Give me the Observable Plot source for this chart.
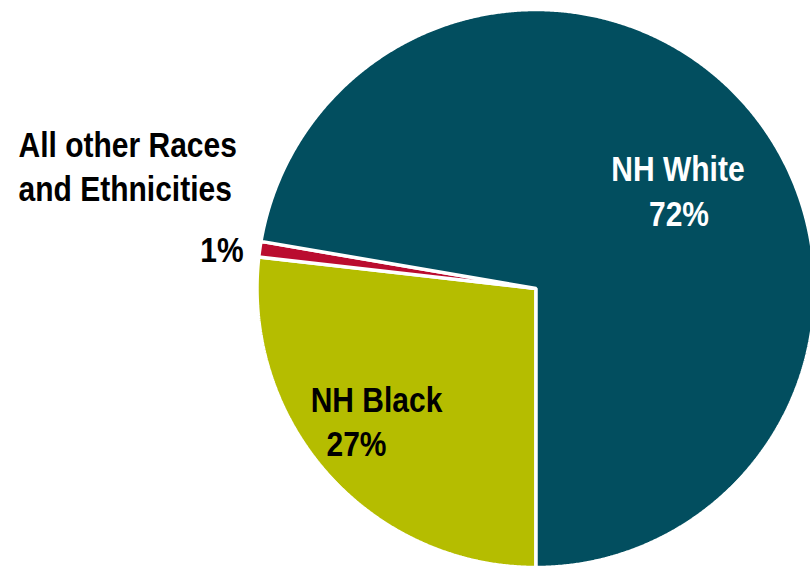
<!DOCTYPE html>
<html><head><meta charset="utf-8">
<script src="https://cdn.jsdelivr.net/npm/d3@7"></script>
<script src="https://cdn.jsdelivr.net/npm/@observablehq/plot@0.6"></script>
<style>body{margin:0;background:#fff;} svg{display:block;}</style>
</head><body><div id="chart"></div>
<script>
// Data
const categories = ["NH Black", "All other Races and Ethnicities", "NH White"];
const values = [26.8, 0.9, 72.3];
const percentLabels = ["27%", "1%", "72%"];
const colors = ["#B5BD00", "#BA0C2F", "#024E5F"];

// Layout
const W = 810, H = 568, CX = 535.5, CY = 288, R = 279;
const FONT = "'Liberation Sans', Arial, sans-serif";
const FS = 30;
const STRETCH_Y = 1.14;

const arcs = d3.pie().sort(null).startAngle(Math.PI).endAngle(3 * Math.PI)(values);
const polar = (a, r) => ({x: r * Math.sin(a), y: r * Math.cos(a)});

const slices = arcs.map((a, i) => ({
  name: categories[i], pct: percentLabels[i], color: colors[i],
  a0: a.startAngle, a1: a.endAngle, mid: (a.startAngle + a.endAngle) / 2
}));

function wedge(s) {
  const pts = [{...polar(0, 0)}];
  const n = Math.max(4, Math.ceil((s.a1 - s.a0) / 0.005));
  for (let k = 0; k <= n; k++) pts.push(polar(s.a0 + (s.a1 - s.a0) * k / n, 1));
  return pts;
}

const byName = Object.fromEntries(slices.map(s => [s.name, s]));
const anchor = (name, r) => { const s = byName[name]; return [{...polar(s.mid, r), name: s.name, pct: s.pct}]; };

const textBase = {x: "x", y: "y", fontFamily: FONT, fontSize: FS, fontWeight: "bold", lineAnchor: "bottom"};

const white = anchor("NH White", 0.6);
const black = anchor("NH Black", 0.6);
const other = anchor("All other Races and Ethnicities", 1.0);

const chart = Plot.plot({
  width: W, height: H, margin: 0,
  x: {domain: [-1, 1], range: [CX - R, CX + R], axis: null},
  y: {domain: [-1, 1], range: [CY + R, CY - R], axis: null},
  marks: [
    ...slices.map(s => Plot.line(wedge(s), {x: "x", y: "y", curve: "linear-closed", fill: s.color, stroke: "white", strokeWidth: 3.5, strokeLinejoin: "miter"})),
    Plot.text(white, {...textBase, text: "name", fill: "white", textAnchor: "middle", dx: 14, dy: 0}),
    Plot.text(white, {...textBase, text: "pct", fill: "white", textAnchor: "middle", dx: 15, dy: 45}),
    Plot.text(black, {...textBase, text: "name", fill: "black", textAnchor: "middle", dx: -34.6, dy: 12.3}),
    Plot.text(black, {...textBase, text: "pct", fill: "black", textAnchor: "middle", dx: -54.6, dy: 55.6}),
    Plot.text(other, {...textBase, text: () => "All other Races", fill: "black", textAnchor: "start", dx: -241.2, dy: -92.5}),
    Plot.text(other, {...textBase, text: () => "and Ethnicities", fill: "black", textAnchor: "start", dx: -241.2, dy: -48.2}),
    Plot.text(other, {...textBase, text: "pct", fill: "black", textAnchor: "end", dx: -16.2, dy: 12.5})
  ]
});
// The source labels are set in a tall, condensed face: stretch them vertically about their baseline.
d3.select(chart).selectAll("text").each(function () {
  const t = this.getAttribute("transform") || "";
  this.setAttribute("transform", `${t} scale(1,${STRETCH_Y})`);
});
document.getElementById("chart").appendChild(chart);
</script>
</body></html>
